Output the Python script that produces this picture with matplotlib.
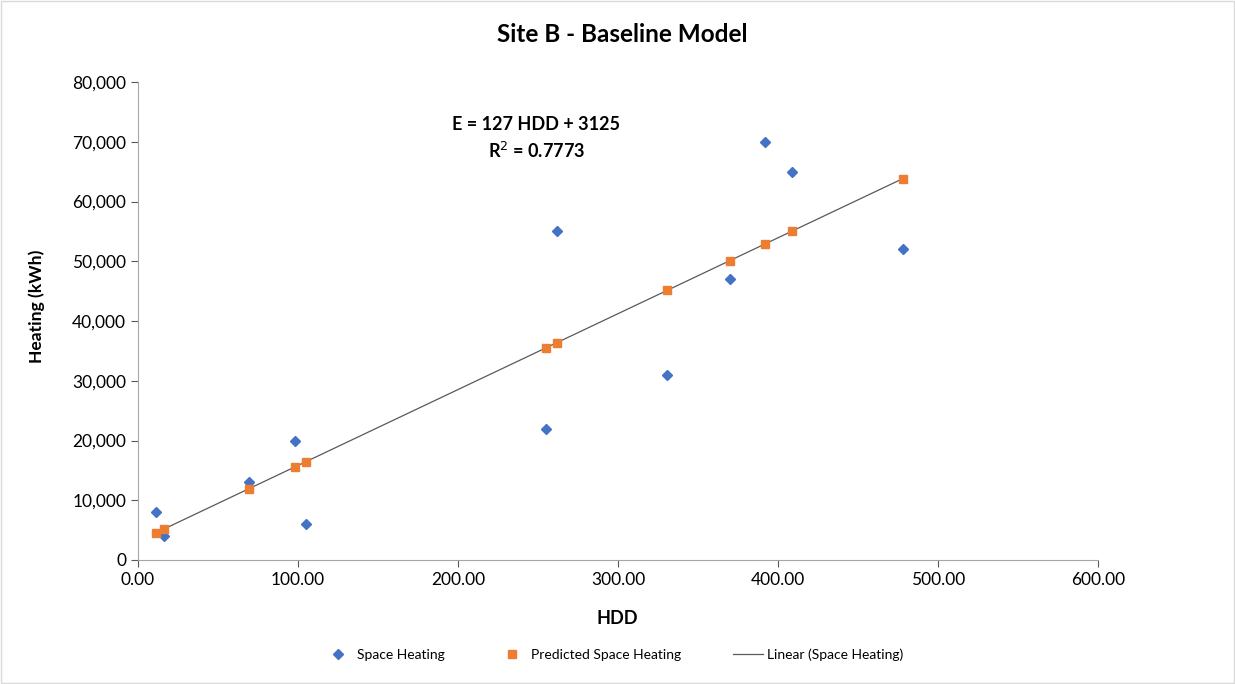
import matplotlib.pyplot as plt
from matplotlib.patches import Rectangle
from matplotlib.ticker import FuncFormatter, MultipleLocator

# --- DATA ---
HDD = [11.25, 16.25, 69.4, 98.0, 105.0, 255.0, 262.0, 330.6, 370.0, 392.0, 409.0, 478.0]
SPACE_HEATING = [8000, 4000, 13000, 20000, 6000, 22000, 55000, 31000, 47000, 70000, 65000, 52000]
PREDICTED = [4550, 5190, 11940, 15570, 16460, 35510, 36400, 45110, 50120, 52910, 55070, 63830]

TITLE = 'Site B - Baseline Model'
EQUATION = 'E = 127 HDD + 3125'
R2_TEXT = 'R$^2$ = 0.7773'
BLUE = '#4472C4'
ORANGE = '#ED7D31'
LINE_GRAY = '#595959'

W, H = 1235, 684
plt.rcParams['font.family'] = ['Lato', 'DejaVu Sans']

fig = plt.figure(figsize=(W / 100, H / 100), dpi=100)
ax = fig.add_axes([138 / W, 1 - 560 / H, 960 / W, 478 / H])

# trendline drawn through the predicted series
pairs = sorted(zip(HDD, PREDICTED))
ax.plot([p[0] for p in pairs], [p[1] for p in pairs], color=LINE_GRAY, lw=0.9,
        label='Linear (Space Heating)', zorder=2)
ax.plot(HDD, SPACE_HEATING, linestyle='none', marker='D', markersize=5,
        color=BLUE, label='Space Heating', zorder=3)
ax.plot(HDD, PREDICTED, linestyle='none', marker='s', markersize=6,
        color=ORANGE, label='Predicted Space Heating', zorder=4)

ax.set_xlim(0, 600)
ax.set_ylim(0, 80000)
ax.xaxis.set_major_locator(MultipleLocator(100))
ax.yaxis.set_major_locator(MultipleLocator(10000))
ax.xaxis.set_major_formatter(FuncFormatter(lambda v, p: f'{v:.2f}'))
ax.yaxis.set_major_formatter(FuncFormatter(lambda v, p: f'{v:,.0f}'))
ax.tick_params(axis='both', labelsize=12.5, colors='#595959', labelcolor='black',
               length=5, width=0.8)
for side in ['top', 'right']:
    ax.spines[side].set_visible(False)
for side in ['left', 'bottom']:
    ax.spines[side].set_color('#A6A6A6')

# axis titles and chart title
fig.text(617 / W, 1 - 618 / H, 'HDD', ha='center', va='center', fontsize=13, fontweight='bold')
fig.text(37 / W, 1 - 306 / H, 'Heating (kWh)', ha='center', va='center', rotation=90,
         fontsize=12.6, fontweight='bold')
fig.text(622 / W, 1 - 35 / H, TITLE, ha='center', va='center', fontsize=17.5, fontweight='bold')

ax.text(0.415, 0.912, EQUATION, transform=ax.transAxes, ha='center', va='center',
        fontsize=13, fontweight='bold')
ax.text(0.415, 0.856, R2_TEXT, transform=ax.transAxes, ha='center', va='center',
        fontsize=13, fontweight='bold')

handles, labels = ax.get_legend_handles_labels()
order = [1, 2, 0]
fig.legend([handles[i] for i in order], [labels[i] for i in order],
           loc='center', bbox_to_anchor=(613 / W, 1 - 655 / H), ncol=3, frameon=False,
           fontsize=10, columnspacing=3.7, handlelength=2.2, handletextpad=0.3)

fig.patches.append(Rectangle((0.001, 0.001), 0.998, 0.998, transform=fig.transFigure,
                             fill=False, edgecolor='#D9D9D9', lw=1))

fig.savefig('out.png', dpi=100)
